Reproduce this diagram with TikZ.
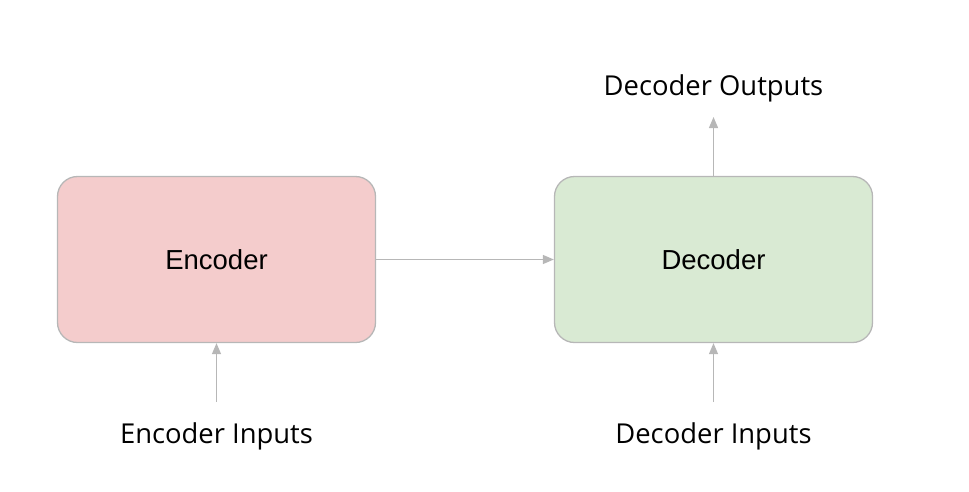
\documentclass[tikz,border=0pt]{standalone}
\usepackage{fontspec}
\setmainfont{Open Sans}
\newfontfamily\boxfont{Liberation Sans}
\usetikzlibrary{arrows.meta}
\definecolor{encfill}{HTML}{F4CCCC}
\definecolor{decfill}{HTML}{D9EAD3}
\definecolor{edgegray}{HTML}{B7B7B7}
\tikzset{
  blockbox/.style={draw=edgegray, line width=1.3pt, rounded corners=20pt,
    minimum width=318pt, minimum height=166pt, inner sep=0pt,
    font=\boxfont\fontsize{27.5}{30}\selectfont},
  lbl/.style={inner sep=0pt, font=\fontsize{27.4}{30}\selectfont},
  conn/.style={draw=edgegray, line width=1.3pt, -{Triangle[length=11pt,width=9pt]}}
}
\begin{document}
\begin{tikzpicture}[x=1pt,y=-1pt]
\useasboundingbox (0,0) rectangle (969,491);
\node[blockbox, fill=encfill] (enc) at (216.5,259.5) {\raisebox{-1.5pt}{Encoder}};
\node[blockbox, fill=decfill] (dec) at (713.5,259.5) {\raisebox{-1.5pt}{Decoder}};
\node[lbl] (encin) at (216.5,436) {Encoder Inputs};
\node[lbl] (decin) at (713.5,436) {Decoder Inputs};
\node[lbl] (decout) at (713.5,88) {Decoder Outputs};
\coordinate (encinA) at (216.5,402);
\coordinate (decinA) at (713.5,402);
\coordinate (decoutA) at (713.5,117);
\draw[conn] (encinA) -- (enc.south);
\draw[conn] (decinA) -- (dec.south);
\draw[conn] (dec.north) -- (decoutA);
\draw[conn] (enc.east) -- (dec.west);
\end{tikzpicture}
\end{document}
